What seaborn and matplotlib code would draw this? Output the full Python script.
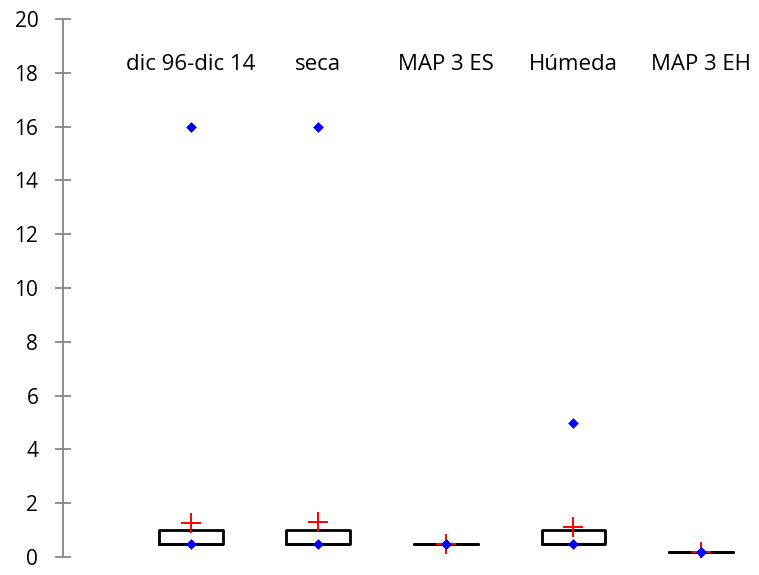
import numpy as np
import pandas as pd
import matplotlib
matplotlib.use("Agg")
import matplotlib.pyplot as plt
import seaborn as sns

# Box statistics
categories = ["dic 96-dic 14", "seca", "MAP 3 ES", "Húmeda", "MAP 3 EH"]
q1_vals = [0.5, 0.5, 0.5, 0.5, 0.2]
median_vals = [0.5, 0.5, 0.5, 0.5, 0.2]
q3_vals = [1.0, 1.0, 0.5, 1.0, 0.2]
min_vals = [0.5, 0.5, 0.5, 0.5, 0.2]
max_vals = [16, 16, 0.5, 5, 0.2]
mean_vals = [1.25, 1.3, 0.5, 1.1, 0.2]
y_ticks = [0, 2, 4, 6, 8, 10, 12, 14, 16, 18, 20]

sns.set_style("white")
plt.rcParams["font.family"] = ["Open Sans", "DejaVu Sans"]

fig = plt.figure(figsize=(7.59, 5.75), dpi=100)
ax = fig.add_axes([63 / 759, 18 / 575, 1 - 63 / 759, (557 - 19) / 575])

positions = np.arange(1, len(categories) + 1)

# boxes from the quartiles
stats = []
for i, cat in enumerate(categories):
    stats.append({"label": cat, "q1": q1_vals[i], "med": median_vals[i], "q3": q3_vals[i],
                  "whislo": q1_vals[i], "whishi": q3_vals[i], "fliers": []})
ax.bxp(stats, positions=positions, widths=0.5, showcaps=False, showfliers=False,
       boxprops=dict(color="black", linewidth=2),
       medianprops=dict(color="black", linewidth=2),
       whiskerprops=dict(linewidth=0))

# min / max and mean markers
pts = pd.DataFrame({
    "pos": np.concatenate([positions, positions]),
    "value": min_vals + max_vals,
})
means = pd.DataFrame({"pos": positions, "value": mean_vals})
sns.scatterplot(data=means, x="pos", y="value", marker="+", s=200, color="red",
                linewidth=1.4, ax=ax, zorder=4)
sns.scatterplot(data=pts, x="pos", y="value", marker="D", s=30, color="blue",
                edgecolor="blue", linewidth=0, ax=ax, zorder=5)

# category labels inside the plot
for p, cat in zip(positions, categories):
    ax.text(p, 18.3, cat, ha="center", va="center", fontsize=16, color="black")

ax.set_xlim(0, (759 - 63) / 127.6)
ax.set_ylim(0, 20)
ax.set_yticks(y_ticks)
ax.set_yticklabels([str(t) for t in y_ticks], fontsize=15, color="black")
ax.set_xticks([])
ax.set_xlabel("")
ax.set_ylabel("")
for s in ["top", "right", "bottom"]:
    ax.spines[s].set_visible(False)
ax.spines["left"].set_color("#868686")
ax.spines["left"].set_linewidth(1.3)
ax.tick_params(axis="y", direction="inout", length=11.5, color="#868686", width=1.3, pad=12, left=True)

fig.savefig("out.png", dpi=100)
